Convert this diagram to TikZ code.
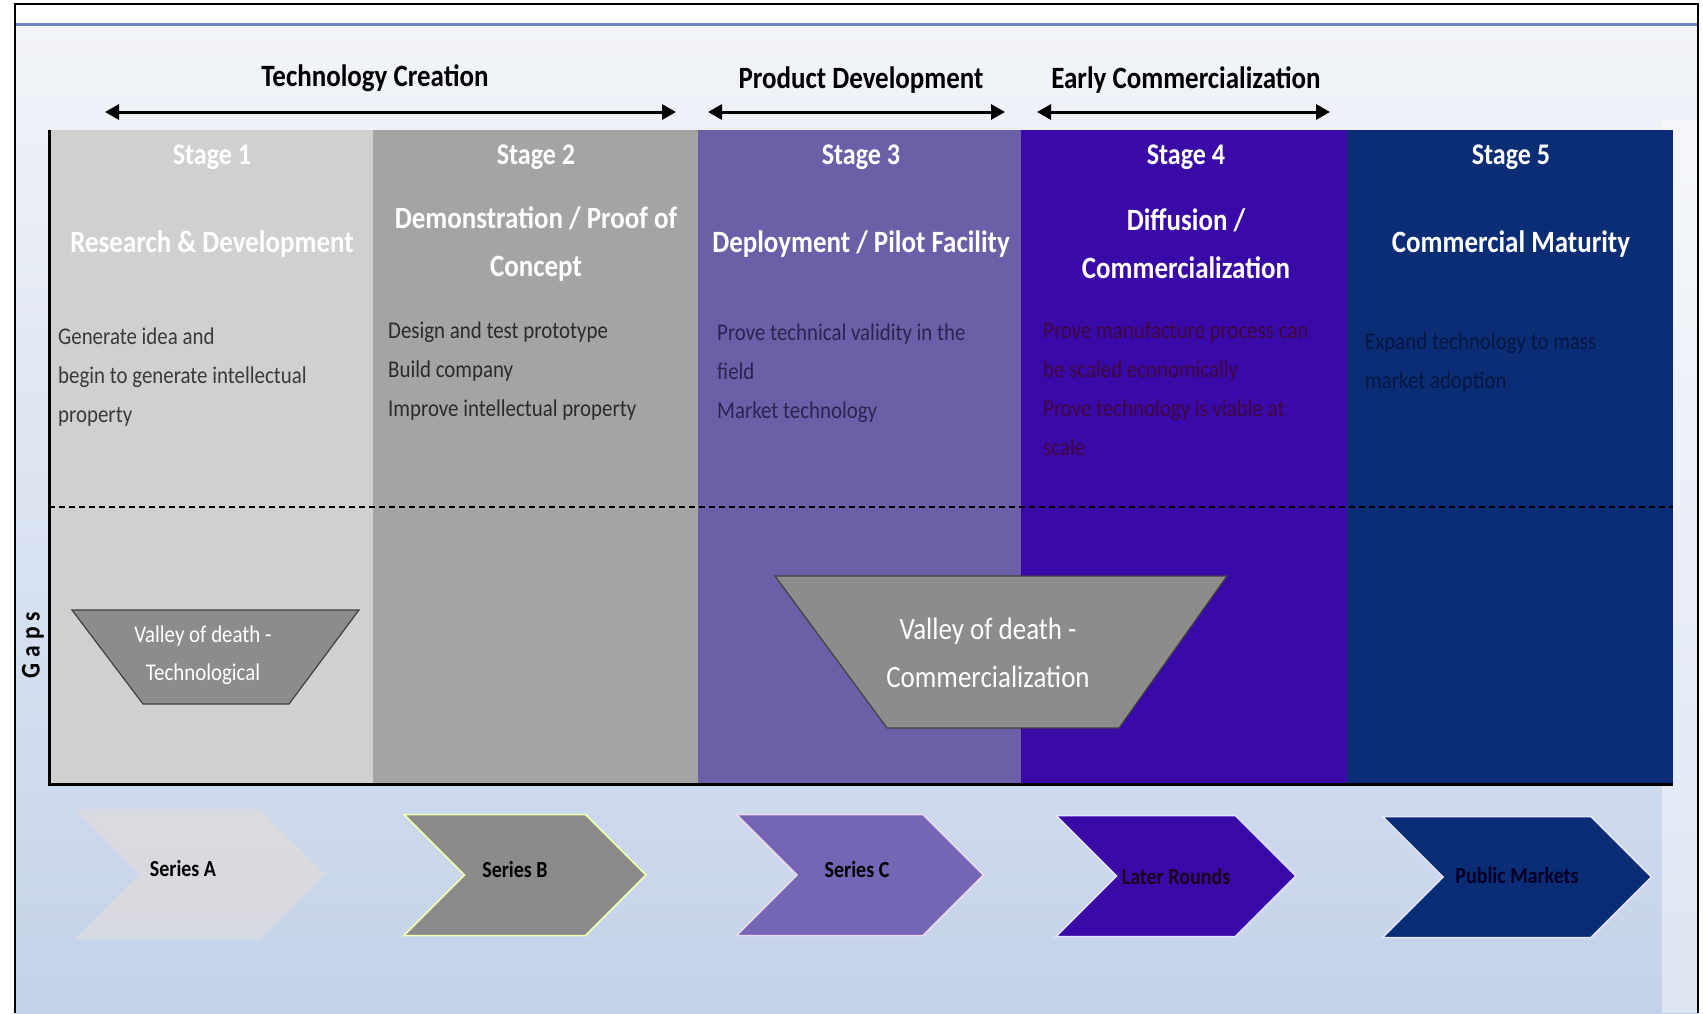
\documentclass[tikz,border=0pt]{standalone}
\usepackage{fontspec}
\setmainfont{Carlito}[FakeStretch=0.87]
\usetikzlibrary{arrows.meta,shapes.symbols}
\definecolor{bgtop}{HTML}{F2F4F8}
\definecolor{bgbot}{HTML}{C3D2EA}
\definecolor{hdrline}{HTML}{6A88C8}
\definecolor{sone}{HTML}{D2D0CE}
\definecolor{stwo}{HTML}{A6A4A2}
\definecolor{sthree}{HTML}{6D5EA8}
\definecolor{sfour}{HTML}{3A0AA8}
\definecolor{sfive}{HTML}{0A2D75}
\definecolor{valleygray}{HTML}{8E8C8A}
\definecolor{chevA}{HTML}{E8DED6}
\definecolor{chevB}{HTML}{8C8B8A}
\definecolor{chevC}{HTML}{7566B5}
\definecolor{txtone}{HTML}{3A3A3A}
\definecolor{txttwo}{HTML}{2B2B2B}
\definecolor{txtthree}{HTML}{2A2450}
\definecolor{txtfour}{HTML}{40083A}
\definecolor{txtfive}{HTML}{051640}
\begin{document}
\begin{tikzpicture}[x=1pt,y=-1pt,
  headtxt/.style={font=\bfseries\fontsize{30}{36}\selectfont, text=white, inner sep=0pt},
  subtxt/.style={font=\bfseries\fontsize{31}{48}\selectfont, text=white, align=center, inner sep=0pt},
  bodytxt/.style={font=\fontsize{24}{39}\selectfont, align=left, anchor=north west, inner sep=0pt},
  toplabel/.style={font=\bfseries\fontsize{31}{36}\selectfont, inner sep=0pt},
  span/.style={{Triangle[length=14pt,width=15pt]}-{Triangle[length=14pt,width=15pt]}, line width=3pt},
  valley/.style={fill=valleygray, draw=black!75, line width=1.2pt},
  valleytxt/.style={text=white, align=center, inner sep=0pt},
  chev/.style={signal, signal from=west, signal to=east, signal pointer angle=90,
    minimum width=242pt, minimum height=121pt, inner sep=0pt,
    font=\bfseries\fontsize{23}{28}\selectfont},
]
\useasboundingbox (0,0) rectangle (1703,1013);
% background
\fill[white] (0,0) rectangle (1703,1013);
\fill[top color=bgtop, bottom color=bgbot] (15,24) rectangle (1698,1013);
\fill[white, opacity=0.45] (1662,120) rectangle (1698,1013);
\draw[hdrline, line width=3pt] (15,24) -- (1698,24);
% outer frame
\draw[black, line width=2pt] (15,1013) -- (15,4) -- (1698,4) -- (1698,1013);

% stage columns
\fill[sone]   (49,130) rectangle (373,784);
\fill[stwo]   (373,130) rectangle (698,784);
\fill[sthree] (698,130) rectangle (1021,784);
\fill[sfour]  (1021,130) rectangle (1347,784);
\fill[sfive]  (1347,130) rectangle (1673,784);

% dashed separator
\draw[black, line width=1.5pt, dash pattern=on 6pt off 4pt] (49,507) -- (1673,507);
% axes
\draw[black, line width=3pt] (49,130) -- (49,784) -- (1673,784);

% top spans
\coordinate (tcL) at (105,112); \coordinate (tcR) at (676,112);
\coordinate (pdL) at (708,112); \coordinate (pdR) at (1005,112);
\coordinate (ecL) at (1037,112); \coordinate (ecR) at (1330,112);
\draw[span] (tcL) -- (tcR);
\draw[span] (pdL) -- (pdR);
\draw[span] (ecL) -- (ecR);
\node[toplabel] (tclab) at (375,78) {Technology Creation};
\node[toplabel] (pdlab) at (861,80) {Product Development};
\node[toplabel] (eclab) at (1186,80) {Early Commercialization};

% stage headings
\node[headtxt] (h1) at (212,157) {Stage 1};
\node[headtxt] (h2) at (536,157) {Stage 2};
\node[headtxt] (h3) at (861,157) {Stage 3};
\node[headtxt] (h4) at (1186,157) {Stage 4};
\node[headtxt] (h5) at (1511,157) {Stage 5};

\node[subtxt] (s1) at (212,244) {Research \& Development};
\node[subtxt] (s2) at (536,244) {Demonstration / Proof of\\Concept};
\node[subtxt] (s3) at (861,244) {Deployment / Pilot Facility};
\node[subtxt] (s4) at (1186,244) {Diffusion /\\Commercialization};
\node[subtxt] (s5) at (1511,244) {Commercial Maturity};

% stage bodies
\node[bodytxt, text=txtone] (b1) at (58,328) {Generate idea and\\begin to generate intellectual\\property};
\node[bodytxt, text=txttwo] (b2) at (388,322) {Design and test prototype\\Build company\\Improve intellectual property};
\node[bodytxt, text=txtthree] (b3) at (717,324) {Prove technical validity in the\\field\\Market technology};
\node[bodytxt, text=txtfour] (b4) at (1043,322) {Prove manufacture process can\\be scaled economically\\Prove technology is viable at\\scale};
\node[bodytxt, text=txtfive] (b5) at (1365,333) {Expand technology to mass\\market adoption};

% Gaps label
\node[rotate=90, font=\bfseries\fontsize{27}{30}\selectfont, inner sep=0pt] (gaps) at (33,645) {G\kern6pt a\kern6pt p\kern6pt s};

% valleys of death
\coordinate (vt1) at (72,610); \coordinate (vt2) at (359,610);
\coordinate (vt3) at (289,704); \coordinate (vt4) at (143,704);
\draw[valley] (vt1) -- (vt2) -- (vt3) -- (vt4) -- cycle;
\node[valleytxt, font=\fontsize{24}{38}\selectfont] (vtlab) at (203,655) {Valley of death -\\Technological};

\coordinate (vc1) at (775,576); \coordinate (vc2) at (1227,576);
\coordinate (vc3) at (1119,728); \coordinate (vc4) at (887,728);
\draw[valley] (vc1) -- (vc2) -- (vc3) -- (vc4) -- cycle;
\node[valleytxt, font=\fontsize{31}{48}\selectfont] (vclab) at (988,653) {Valley of death -\\Commercialization};

% funding chevrons
\node[chev, fill=chevA, fill opacity=0.5, text opacity=1, minimum width=250pt, minimum height=130pt] (ca) at (200,874) {\raisebox{12pt}{Series A}\hspace*{34pt}};
\node[chev, fill=chevB, draw=green!20!yellow!30!white, line width=1.5pt] (cb) at (525,875) {\raisebox{12pt}{Series B}\hspace*{20pt}};
\node[chev, fill=chevC, draw=violet!15!white, line width=1.5pt, minimum width=247pt] (cc) at (860,875) {\raisebox{12pt}{Series C}\hspace*{6pt}};
\node[chev, fill=sfour, draw=blue!10!white, line width=1.5pt, text=black!80!violet, minimum width=240pt] (cd) at (1176,876) {Later Rounds};
\node[chev, fill=sfive, draw=blue!10!white, line width=1.5pt, text=black!85!blue, minimum width=269pt] (ce) at (1517,877) {\raisebox{3pt}{Public Markets}};
\end{tikzpicture}
\end{document}
